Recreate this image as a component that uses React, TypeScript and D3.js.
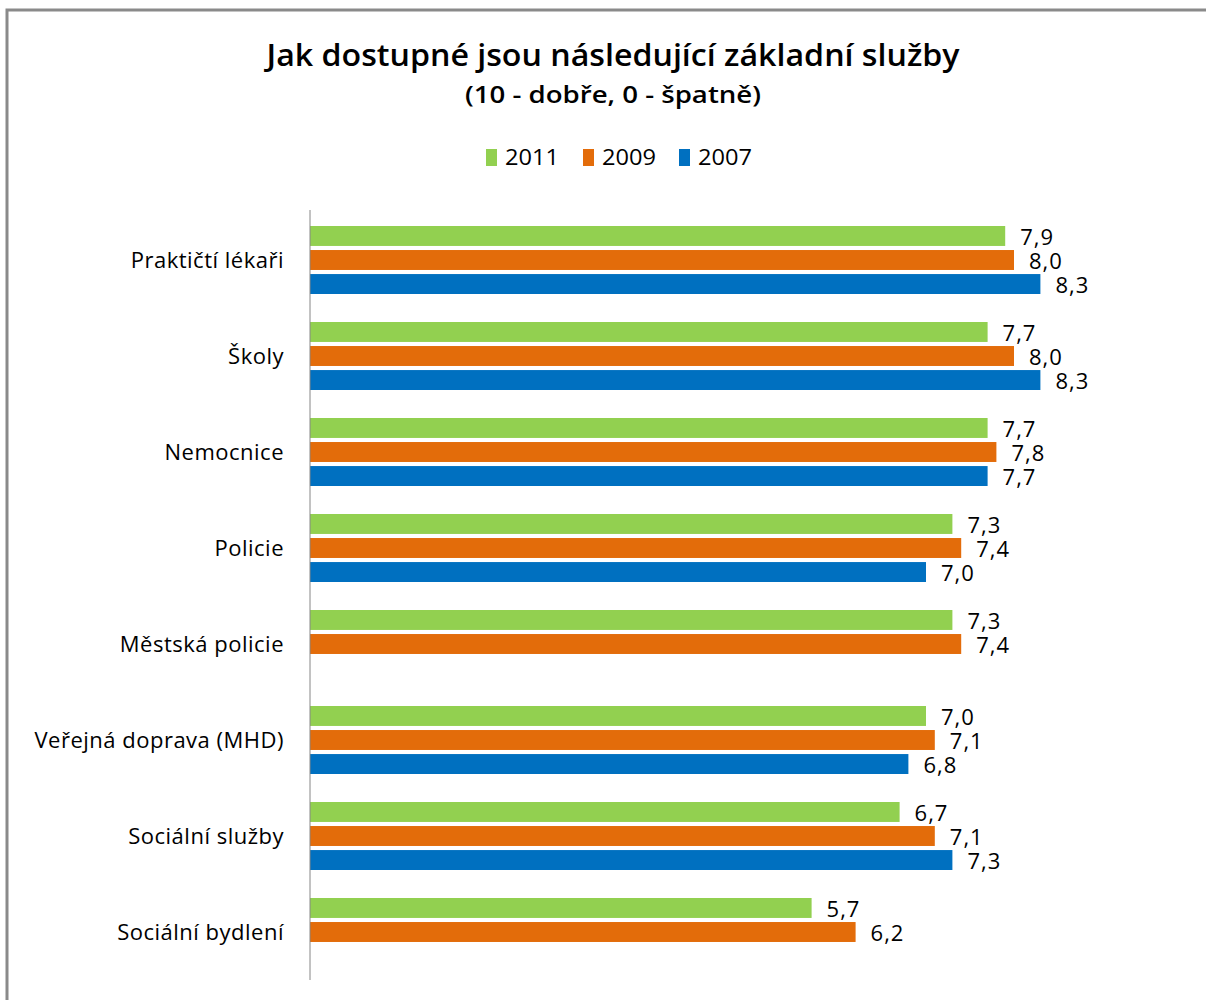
import React from "react";
import * as d3 from "d3";

const categories = [
  "Praktičtí lékaři",
  "Školy",
  "Nemocnice",
  "Policie",
  "Městská policie",
  "Veřejná doprava (MHD)",
  "Sociální služby",
  "Sociální bydlení",
];
const seriesNames = ["2011", "2009", "2007"];
const values2011 = [7.9, 7.7, 7.7, 7.3, 7.3, 7.0, 6.7, 5.7];
const values2009 = [8.0, 8.0, 7.8, 7.4, 7.4, 7.1, 7.1, 6.2];
const values2007: (number | null)[] = [8.3, 8.3, 7.7, 7.0, null, 6.8, 7.3, null];
const colors = ["#92d050", "#e36c0a", "#0070c0"];
const title = "Jak dostupné jsou následující základní služby";
const subtitle = "(10 - dobře, 0 - špatně)";

const W = 1206;
const H = 1000;
const FONT = "'Open Sans', 'Noto Sans', sans-serif";

export default function App() {
  const series = [values2011, values2009, values2007];
  const x = d3.scaleLinear().domain([0, 10]).range([310, 1190]);
  const y = d3.scaleBand<string>().domain(categories).range([212, 980]).paddingInner(0).paddingOuter(0);
  const inner = d3
    .scaleBand<string>()
    .domain(seriesNames)
    .range([14, y.bandwidth() - 14])
    .paddingInner(0.17)
    .paddingOuter(0);
  const fmt = (v: number) => d3.format(".1f")(v).replace(".", ",");

  const legendX = [486, 583, 679];

  return (
    <svg
      width={W}
      height={H}
      style={{ position: "absolute", left: 0, top: 0, background: "#fff" }}
      fontFamily={FONT}
    >
      <rect x={0} y={0} width={W} height={H} fill="#fff" />
      <rect x={7} y={10} width={W + 20} height={H + 20} fill="none" stroke="#8a8a8a" strokeWidth={3} />
      <text x={613} y={66} textAnchor="middle" fontSize={30} fontWeight="600" fill="#000" textLength={693} lengthAdjust="spacingAndGlyphs">
        {title}
      </text>
      <text x={613} y={103} textAnchor="middle" fontSize={23} fontWeight="600" fill="#000" textLength={296} lengthAdjust="spacingAndGlyphs">
        {subtitle}
      </text>
      {seriesNames.map((s, i) => (
        <g key={s}>
          <rect x={legendX[i]} y={149} width={11} height={17} fill={colors[i]} />
          <text x={legendX[i] + 19} y={165} fontSize={21} fill="#000" textLength={54} lengthAdjust="spacingAndGlyphs">
            {s}
          </text>
        </g>
      ))}
      {categories.map((c, ci) => (
        <g key={c} transform={`translate(0,${y(c)})`}>
          <text x={284} y={y.bandwidth() / 2 + 8} textAnchor="end" fontSize={22} letterSpacing={0.5} fill="#000">
            {c}
          </text>
          {series.map((vals, si) => {
            const v = vals[ci];
            if (v == null) return null;
            const by = inner(seriesNames[si])!;
            return (
              <g key={si}>
                <rect x={x(0)} y={by} width={x(v) - x(0)} height={inner.bandwidth()} fill={colors[si]} />
                <text x={x(v) + 15} y={by + inner.bandwidth() / 2 + 9} fontSize={22} letterSpacing={1} fill="#000">
                  {fmt(v)}
                </text>
              </g>
            );
          })}
        </g>
      ))}
      <line x1={x(0)} x2={x(0)} y1={210} y2={980} stroke="#868686" strokeWidth={1} />
    </svg>
  );
}
